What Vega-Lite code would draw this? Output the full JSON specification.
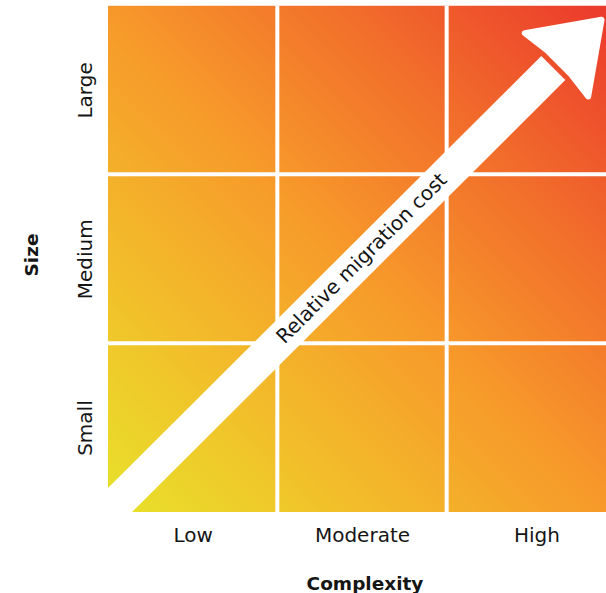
{
  "$schema": "https://vega.github.io/schema/vega-lite/v6.json",
  "autosize": {"type": "none"},
  "padding": {"left": 108, "top": 5.5, "right": 0, "bottom": 81},
  "width": 498,
  "height": 506.5,
  "background": "white",
  "config": {"view": {"stroke": null}, "font": "DejaVu Sans"},
  "layer": [
    {
      "data": {"values": [{"x": 0, "x2": 3, "y": 0, "y2": 3}]},
      "mark": {
        "type": "rect",
        "clip": true,
        "color": {
          "gradient": "linear",
          "x1": 0, "y1": 1, "x2": 1, "y2": 0,
          "stops": [
            {"offset": 0, "color": "#e8e22a"},
            {"offset": 0.25, "color": "#f2bd2a"},
            {"offset": 0.5, "color": "#f7982a"},
            {"offset": 0.75, "color": "#f16a2b"},
            {"offset": 1, "color": "#eb372c"}
          ]
        }
      },
      "encoding": {
        "x": {
          "field": "x", "type": "quantitative",
          "scale": {"domain": [0, 2.941], "nice": false, "zero": false},
          "axis": {
            "values": [0.5, 1.5, 2.53],
            "labelExpr": "datum.value < 1 ? 'Low' : datum.value < 2 ? 'Moderate' : 'High'",
            "domain": false, "ticks": false, "tickSize": 0, "grid": false,
            "labelFontSize": 20, "labelColor": "#151515", "labelFont": "DejaVu Sans",
            "labelBaseline": "alphabetic", "labelPadding": 29.5, "labelAlign": "center",
            "title": "Complexity", "titleFontSize": 18.5, "titleFontWeight": "bold",
            "titleColor": "#151515", "titleFont": "DejaVu Sans",
            "titleX": 256.5, "titleY": 77, "titleBaseline": "alphabetic", "titleAlign": "center"
          }
        },
        "x2": {"field": "x2"},
        "y": {
          "field": "y", "type": "quantitative",
          "scale": {"domain": [0, 3], "nice": false, "zero": false},
          "axis": {
            "values": [0.5, 1.5, 2.5],
            "labelExpr": "datum.value < 1 ? 'Small' : datum.value < 2 ? 'Medium' : 'Large'",
            "domain": false, "ticks": false, "tickSize": 0, "grid": false,
            "labelFontSize": 20, "labelColor": "#151515", "labelFont": "DejaVu Sans",
            "labelAngle": 270, "labelAlign": "center", "labelBaseline": "alphabetic", "labelPadding": 17,
            "title": "Size", "titleFontSize": 18.5, "titleFontWeight": "bold",
            "titleColor": "#151515", "titleFont": "DejaVu Sans",
            "titleAngle": 270, "titleX": -71, "titleY": 249, "titleBaseline": "alphabetic", "titleAlign": "center"
          }
        },
        "y2": {"field": "y2"}
      }
    },
    {
      "data": {"values": [{"x": 1}, {"x": 2}]},
      "mark": {"type": "rule", "color": "white", "strokeWidth": 4},
      "encoding": {"x": {"field": "x", "type": "quantitative"}}
    },
    {
      "data": {"values": [{"y": 1}, {"y": 2}]},
      "mark": {"type": "rule", "color": "white", "strokeWidth": 4},
      "encoding": {"y": {"field": "y", "type": "quantitative"}}
    },
    {
      "data": {"values": [{"x": -0.3, "y": -0.3, "x2": 2.63, "y2": 2.63}]},
      "mark": {"type": "rule", "color": "white", "strokeWidth": 34, "strokeCap": "butt", "clip": true},
      "encoding": {
        "x": {"field": "x", "type": "quantitative"},
        "y": {"field": "y", "type": "quantitative"},
        "x2": {"field": "x2"},
        "y2": {"field": "y2"}
      }
    },
    {
      "data": {"values": [{"x": 2.64, "y": 2.64}]},
      "mark": {
        "type": "point",
        "shape": "M0.94,0L0.03,0.64L0.08,0.24L0.08,-0.24L0.03,-0.64Z",
        "size": 19600,
        "angle": 315,
        "filled": true,
        "fill": "white",
        "stroke": "white",
        "strokeWidth": 6,
        "strokeJoin": "round",
        "opacity": 1
      },
      "encoding": {
        "x": {"field": "x", "type": "quantitative"},
        "y": {"field": "y", "type": "quantitative"}
      }
    },
    {
      "data": {"values": [{"x": 1.5, "y": 1.5, "label": "Relative migration cost"}]},
      "mark": {
        "type": "text",
        "angle": 315,
        "align": "center",
        "baseline": "middle",
        "fontSize": 20,
        "font": "DejaVu Sans",
        "color": "#151515"
      },
      "encoding": {
        "x": {"field": "x", "type": "quantitative"},
        "y": {"field": "y", "type": "quantitative"},
        "text": {"field": "label"}
      }
    }
  ]
}
